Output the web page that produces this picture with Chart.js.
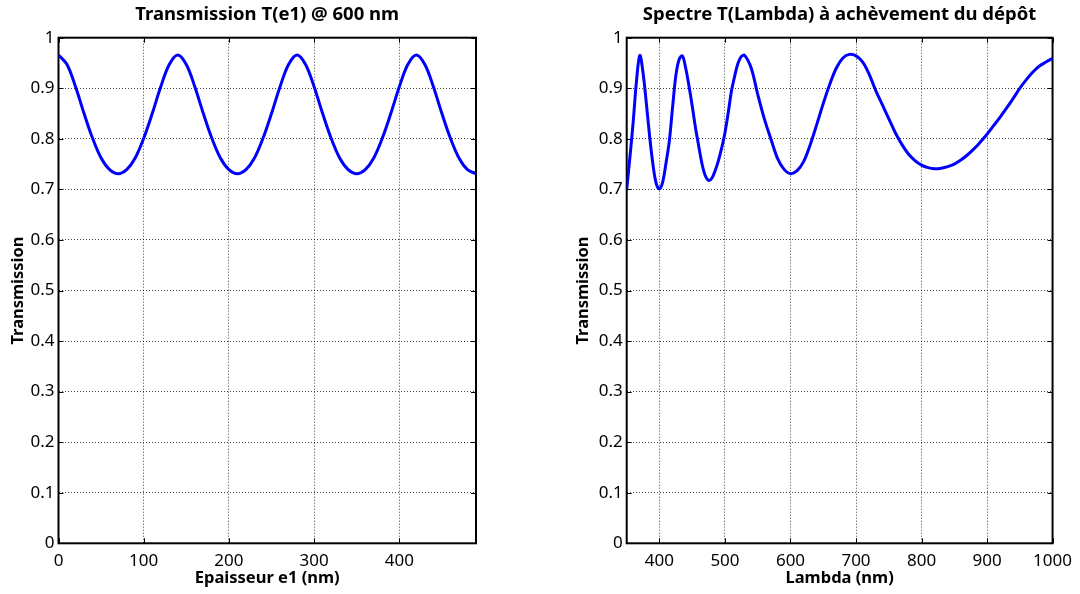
<!DOCTYPE html>
<html>
<head>
<meta charset="utf-8">
<title>Transmission</title>
<script src="https://cdn.jsdelivr.net/npm/chart.js@4.4.1/dist/chart.umd.min.js"></script>
<style>
    body { margin: 0; background: #ffffff; }
    #wrap { position: relative; width: 1080px; height: 594px; }
    #wrap canvas { position: absolute; top: 0; }
</style>
</head>
<body>
<div id="wrap">
    <canvas id="graficaEpaisseur" width="540" height="594" style="left:0px"></canvas>
    <canvas id="graficaSpectre" width="540" height="594" style="left:540px"></canvas>
</div>
<script>
// Data T(e1) @ 600 nm:
const epaisseur = [0, 10, 20, 30, 40, 50, 60, 70, 80, 90, 100, 110, 120, 130,
    140, 150, 160, 170, 180, 190, 200, 210, 220, 230, 240, 250, 260, 270,
    280, 290, 300, 310, 320, 330, 340, 350, 360, 370, 380, 390, 400, 410,
    420, 430, 440, 450, 460, 470, 480, 490];
const transEpaisseur = [0.966, 0.947, 0.903, 0.850, 0.801, 0.762, 0.739, 0.731, 0.739, 0.762, 0.801, 0.850, 0.903, 0.947,
    0.966, 0.947, 0.903, 0.850, 0.801, 0.762, 0.739, 0.731, 0.739, 0.762, 0.801, 0.850, 0.903, 0.947,
    0.966, 0.947, 0.903, 0.850, 0.801, 0.762, 0.739, 0.731, 0.739, 0.762, 0.801, 0.850, 0.903, 0.947,
    0.966, 0.947, 0.903, 0.850, 0.801, 0.762, 0.739, 0.731];

// Data spectre T(Lambda):
const lambda = [350, 355, 360, 365, 370, 375, 380, 385, 390, 395, 400, 405, 410, 415, 420, 425,
    430, 435, 440, 445, 450, 455, 460, 465, 470, 475, 480, 485, 490, 495, 500, 505,
    510, 515, 520, 525, 530, 540, 550, 560, 570, 580, 590, 600, 610, 620, 630, 640,
    650, 660, 670, 680, 690, 700, 710, 720, 730, 740, 750, 760, 770, 780, 790, 800,
    810, 820, 830, 840, 850, 860, 870, 880, 890, 900, 910, 920, 930, 940, 950, 960,
    970, 980, 990, 1000];
const transLambda = [0.700, 0.765, 0.835, 0.915, 0.965, 0.930, 0.870, 0.805, 0.750, 0.712, 0.701, 0.715, 0.752, 0.795, 0.862, 0.925,
    0.957, 0.964, 0.940, 0.905, 0.865, 0.822, 0.785, 0.750, 0.727, 0.718, 0.722, 0.737, 0.757, 0.782, 0.812, 0.852,
    0.895, 0.925, 0.950, 0.963, 0.965, 0.940, 0.888, 0.840, 0.800, 0.762, 0.740, 0.731, 0.737, 0.755, 0.788, 0.828,
    0.870, 0.908, 0.940, 0.960, 0.967, 0.964, 0.952, 0.928, 0.896, 0.868, 0.840, 0.812, 0.789, 0.770, 0.757, 0.748,
    0.743, 0.741, 0.742, 0.745, 0.750, 0.758, 0.768, 0.780, 0.794, 0.809, 0.826, 0.843, 0.861, 0.880, 0.900, 0.917,
    0.932, 0.944, 0.952, 0.959];

// Tick labels:
const yTicks = [0, 0.1, 0.2, 0.3, 0.4, 0.5, 0.6, 0.7, 0.8, 0.9, 1];
const xTicksEpaisseur = [0, 100, 200, 300, 400];
const xTicksLambda = [400, 500, 600, 700, 800, 900, 1000];

const fontFamily = "'Noto Sans', sans-serif";

// Box around plot area + inner ticks (matlab style):
const boxAxes = {
    id: "boxAxes",
    beforeDatasetsDraw: function (chart)
    {
        const ctx = chart.ctx;
        const a = chart.chartArea;
        const x = chart.scales.x;
        const y = chart.scales.y;

        ctx.save();
        ctx.strokeStyle = "#000000";
        ctx.lineWidth = 1;
        ctx.beginPath();
        x.ticks.forEach(function (t) {
            const px = Math.round(x.getPixelForValue(t.value)) + 0.5;
            ctx.moveTo(px, a.bottom); ctx.lineTo(px, a.bottom - 5);
            ctx.moveTo(px, a.top); ctx.lineTo(px, a.top + 5);
        });
        y.ticks.forEach(function (t) {
            const py = Math.round(y.getPixelForValue(t.value)) + 0.5;
            ctx.moveTo(a.left, py); ctx.lineTo(a.left + 5, py);
            ctx.moveTo(a.right, py); ctx.lineTo(a.right - 5, py);
        });
        ctx.stroke();
        ctx.lineWidth = 2;
        ctx.strokeRect(a.left, a.top, a.right - a.left, a.bottom - a.top);
        ctx.restore();
    }
};

// Draw one subplot:
function drawChart(canvas, xs, ys, setup)
{
    const points = [];
    for (let i = 0; i < xs.length; i++)
    {
        points.push({x: xs[i], y: ys[i]});
    }

    const ctx = document.getElementById(canvas).getContext("2d");
    return new Chart(ctx, {
        type: "line",
        data: {
            datasets: [{
                data: points,
                borderColor: "#0000ff",
                borderWidth: 3,
                pointRadius: 0,
                tension: 0.35,
                fill: false
            }]
        },
        options: {
            responsive: false,
            animation: false,
            layout: {
                padding: {left: 0, right: setup.padRight, top: 0, bottom: 0}
            },
            plugins: {
                legend: {display: false},
                tooltip: {enabled: false},
                title: {
                    display: true,
                    text: setup.title,
                    fullSize: false,
                    color: "#000000",
                    font: {family: fontFamily, size: 18.5, weight: "bold", lineHeight: 1.2},
                    padding: {top: 3.4, bottom: 12.1}
                }
            },
            scales: {
                x: {
                    type: "linear",
                    min: setup.xMin,
                    max: setup.xMax,
                    afterBuildTicks: function (scale) {
                        scale.ticks = setup.xTicks.map(function (v) { return {value: v}; });
                    },
                    afterFit: function (scale) {
                        scale.height = 50.7;
                    },
                    border: {display: false, dash: [1, 2]},
                    grid: {
                        drawTicks: false,
                        color: "rgba(0,0,0,0.75)",
                        lineWidth: 1
                    },
                    ticks: {
                        color: "#000000",
                        padding: 8,
                        maxRotation: 0,
                        font: {family: fontFamily, size: 17},
                        callback: function (v) { return String(v); }
                    },
                    title: {
                        display: true,
                        text: setup.xTitle,
                        color: "#000000",
                        font: {family: fontFamily, size: 16.5, weight: "bold", lineHeight: 1.2},
                        padding: {top: 0, bottom: 5.8}
                    }
                },
                y: {
                    type: "linear",
                    min: 0,
                    max: 1,
                    afterBuildTicks: function (scale) {
                        scale.ticks = yTicks.map(function (v) { return {value: v}; });
                    },
                    afterFit: function (scale) {
                        scale.width = setup.yWidth;
                    },
                    border: {display: false, dash: [1, 2]},
                    grid: {
                        drawTicks: false,
                        color: "rgba(0,0,0,0.75)",
                        lineWidth: 1
                    },
                    ticks: {
                        color: "#000000",
                        padding: 4,
                        font: {family: fontFamily, size: 17},
                        callback: function (v) { return String(Math.round(v * 10) / 10); }
                    },
                    title: {
                        display: true,
                        text: "Transmission",
                        color: "#000000",
                        font: {family: fontFamily, size: 16.5, weight: "bold", lineHeight: 1.2},
                        padding: {top: setup.yTitlePad, bottom: 0}
                    }
                }
            }
        },
        plugins: [boxAxes]
    });
}

const chartEpaisseur = drawChart("graficaEpaisseur", epaisseur, transEpaisseur, {
    title: "Transmission T(e1) @ 600 nm",
    xTitle: "Epaisseur e1 (nm)",
    xMin: 0,
    xMax: 490,
    xTicks: xTicksEpaisseur,
    yWidth: 58.5,
    yTitlePad: 8.1,
    padRight: 64
});

const chartSpectre = drawChart("graficaSpectre", lambda, transLambda, {
    title: "Spectre T(Lambda) à achèvement du dépôt",
    xTitle: "Lambda (nm)",
    xMin: 350,
    xMax: 1000,
    xTicks: xTicksLambda,
    yWidth: 86.7,
    yTitlePad: 33.4,
    padRight: 22.3
});
</script>
</body>
</html>
